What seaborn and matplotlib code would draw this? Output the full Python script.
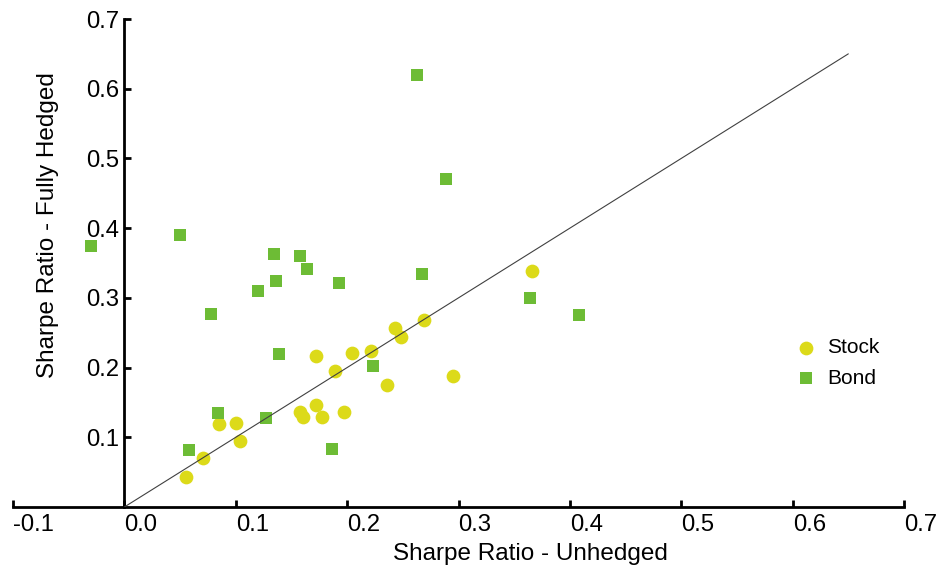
import matplotlib
matplotlib.use("Agg")
import matplotlib.pyplot as plt
import seaborn as sns
import pandas as pd

# Data
stock_x = [0.055, 0.071, 0.085, 0.100, 0.104, 0.158, 0.160, 0.172, 0.177, 0.197,
           0.172, 0.189, 0.204, 0.221, 0.236, 0.243, 0.248, 0.269, 0.295, 0.366]
stock_y = [0.043, 0.070, 0.119, 0.120, 0.095, 0.136, 0.129, 0.147, 0.129, 0.136,
           0.216, 0.195, 0.221, 0.224, 0.175, 0.257, 0.244, 0.268, 0.188, 0.339]
bond_x = [-0.030, 0.050, 0.078, 0.120, 0.134, 0.136, 0.158, 0.164, 0.139, 0.193,
          0.267, 0.263, 0.289, 0.364, 0.408, 0.223, 0.084, 0.127, 0.058, 0.186]
bond_y = [0.374, 0.390, 0.277, 0.310, 0.363, 0.324, 0.360, 0.341, 0.219, 0.321,
          0.334, 0.620, 0.471, 0.300, 0.275, 0.202, 0.135, 0.128, 0.082, 0.083]
diag = [0.0, 0.65]
x_ticks = [-0.1, 0.0, 0.1, 0.2, 0.3, 0.4, 0.5, 0.6, 0.7]
y_ticks = [0.1, 0.2, 0.3, 0.4, 0.5, 0.6, 0.7]

df = pd.DataFrame({
    "x": stock_x + bond_x,
    "y": stock_y + bond_y,
    "kind": ["Stock"] * len(stock_x) + ["Bond"] * len(bond_x),
})

sns.set_style("white")
plt.rcParams["font.family"] = ["Liberation Sans", "DejaVu Sans"]
plt.rcParams["text.color"] = "black"
plt.rcParams["axes.labelcolor"] = "black"

fig = plt.figure(figsize=(9.46, 5.73), dpi=100)
ax = fig.add_axes([13 / 946, 66 / 573, 891 / 946, 488 / 573])

YELLOW = "#DCDA19"
GREEN = "#6DBC35"

sns.scatterplot(data=df[df.kind == "Stock"], x="x", y="y", marker="o",
                color=YELLOW, s=98, linewidth=0, ax=ax, label="Stock", zorder=2)
sns.scatterplot(data=df[df.kind == "Bond"], x="x", y="y", marker="s",
                color=GREEN, s=80, linewidth=0, ax=ax, label="Bond", zorder=2)
sns.lineplot(x=diag, y=diag, color="#404040", linewidth=0.8, ax=ax, zorder=3)

ax.set_xlim(-0.1, 0.7)
ax.set_ylim(0.0, 0.7)
ax.set_xticks(x_ticks)
ax.set_yticks(y_ticks)
ax.set_xticklabels([f"{v:.1f}" for v in x_ticks], ha="left")
ax.set_yticklabels([f"{v:.1f}" for v in y_ticks])

for s in ["top", "right"]:
    ax.spines[s].set_visible(False)
ax.spines["left"].set_position(("data", 0.0))
for s in ["left", "bottom"]:
    ax.spines[s].set_linewidth(2.0)
    ax.spines[s].set_color("black")
ax.tick_params(axis="both", which="major", direction="in", length=5, width=2.0,
               colors="black", labelsize=17.2, bottom=True, left=True)
ax.tick_params(axis="x", pad=5)
ax.tick_params(axis="y", pad=4)

ax.set_xlabel("Sharpe Ratio - Unhedged", fontsize=17.5)
ax.set_ylabel("Sharpe Ratio - Fully Hedged", fontsize=17.5)
ax.xaxis.set_label_coords((530 - 13) / 891, (507 - 554) / 488)
ax.xaxis.label.set_va("center")
ax.yaxis.set_label_coords((48 - 13) / 891, (507 - 225) / 488)
ax.yaxis.label.set_va("center")

ax.grid(False)
leg = ax.legend(loc="center left", bbox_to_anchor=((796 - 13) / 891, (507 - 363) / 488),
                frameon=False, fontsize=15, handlelength=1.0, handletextpad=0.5,
                labelspacing=0.55, borderpad=0, borderaxespad=0)
for t in leg.get_texts():
    t.set_color("black")

fig.savefig("out.png", dpi=100)
